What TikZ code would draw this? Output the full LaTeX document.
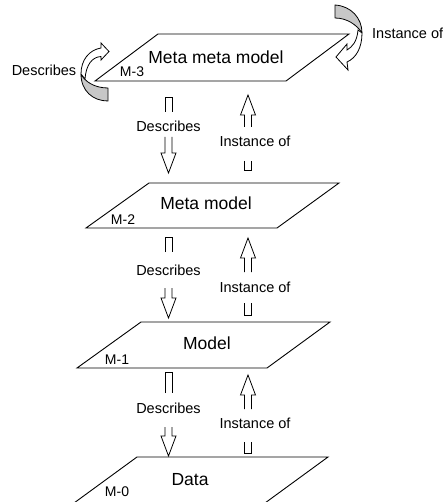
\documentclass[tikz,border=0pt]{standalone}
\usepackage{fontspec}
\setmainfont{Liberation Sans}

% Hollow block arrow pointing down, interrupted by a label:
% #1 x, #2 tail, #3 end of upper piece, #4 start of lower piece, #5 tip
\newcommand{\downblock}[5]{%
  \draw[blk] (#1-3.5,#3) -- (#1-3.5,#2) -- (#1+3.5,#2) -- (#1+3.5,#3);
  \draw[blk] (#1-3.5,#4) -- (#1-3.5,#5-20) -- (#1-7.5,#5-20) -- (#1,#5)
    -- (#1+7.5,#5-20) -- (#1+3.5,#5-20) -- (#1+3.5,#4);}
% Hollow block arrow pointing up, interrupted by a label:
% #1 x, #2 tail, #3 end of lower piece, #4 start of upper piece, #5 tip
\newcommand{\upblock}[5]{%
  \draw[blk] (#1-3.5,#3) -- (#1-3.5,#2) -- (#1+3.5,#2) -- (#1+3.5,#3);
  \draw[blk] (#1-3.5,#4) -- (#1-3.5,#5+20) -- (#1-7.5,#5+20) -- (#1,#5)
    -- (#1+7.5,#5+20) -- (#1+3.5,#5+20) -- (#1+3.5,#4);}

\begin{document}
\begin{tikzpicture}[x=1pt,y=-1pt,
  layer/.style={draw=black, line width=0.9pt, line join=miter},
  title/.style={font=\fontsize{17.5}{20}\selectfont, inner sep=0pt},
  level/.style={font=\fontsize{14}{16}\selectfont, inner sep=0pt},
  lbl/.style={font=\fontsize{14.5}{17}\selectfont, inner sep=0pt},
  blk/.style={draw=black, line width=0.8pt, line join=miter},
  back/.style={fill=black!22, draw=black, line width=0.8pt, line join=round},
  front/.style={fill=white, draw=black, line width=0.8pt, line join=miter}]
\useasboundingbox (0,0) rectangle (443,502);

% ---- modelling layers ----
\draw[layer] (95,81) -- (286,81) -- (349,34) -- (158,34) -- cycle;
\draw[layer] (86,228) -- (277,228) -- (339,183) -- (149,183) -- cycle;
\draw[layer] (77,368) -- (267,368) -- (330,322) -- (141,322) -- cycle;
\draw[layer] (74,503) -- (265,503) -- (328,457) -- (137,457) -- cycle;

\node[title] (t3) at (216,57)  {Meta meta model};
\node[title] (t2) at (206,203) {Meta model};
\node[title] (t1) at (207,343) {Model};
\node[title] (t0) at (190,480) {Data};

\node[level] (m3) at (132,72)  {M-3};
\node[level] (m2) at (123,220) {M-2};
\node[level] (m1) at (117,360) {M-1};
\node[level] (m0) at (117,492) {M-0};

% ---- self-referencing circular arrows on the top layer ----
% left: Describes
\draw[back] (108,88) -- (108,101) .. controls (93,101) and (81,91) .. (81,74)
  .. controls (85,82) and (95,88) .. (108,88) -- cycle;
\draw[front] (81,74) .. controls (81,60) and (89,50) .. (101,48) -- (101,43)
  -- (109,51.5) -- (101,60) -- (101,56.5) .. controls (92,57) and (86,65) .. (85,79)
  -- cycle;
\node[lbl] (dself) at (44,70) {Describes};

% right: Instance of
\draw[back] (335,5) .. controls (351,6) and (362,18) .. (362,33)
  .. controls (357,25) and (347,18) .. (335,18) -- cycle;
\draw[front] (362,33) .. controls (362,48) and (356,58) .. (347,62) -- (348,70)
  -- (336,57) -- (347,44) -- (347,50) .. controls (352,47) and (357,42) .. (358,30)
  -- cycle;
\node[lbl, anchor=west] (iself) at (372,33) {Instance of};

% ---- inter-layer arrows ----
\downblock{168.5}{97}{112}{137}{173}
\node[lbl] (d3) at (168.5,126) {Describes};
\upblock{248}{170}{161}{127}{95}
\node[lbl] (i2) at (255,141) {Instance of};

\downblock{168.5}{237}{252}{288}{318}
\node[lbl] (d2) at (168.5,270) {Describes};
\upblock{248}{315}{303}{272}{238}
\node[lbl] (i1) at (255,287) {Instance of};

\downblock{168.5}{372}{393}{427}{456}
\node[lbl] (d1) at (168.5,408) {Describes};
\upblock{248}{453}{442}{409}{375}
\node[lbl] (i0) at (255,423) {Instance of};
\end{tikzpicture}
\end{document}
